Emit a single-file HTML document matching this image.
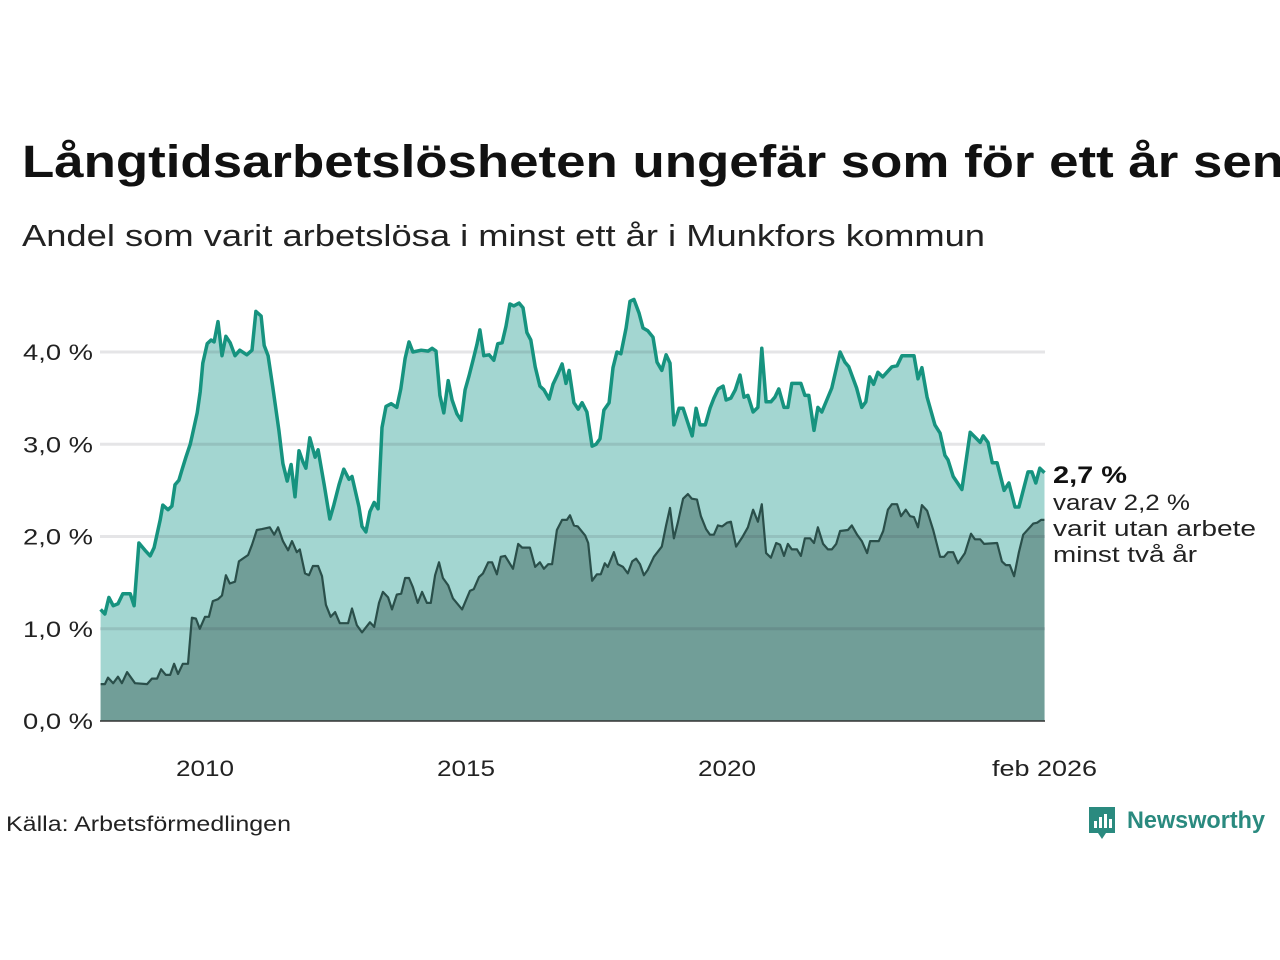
<!DOCTYPE html>
<html><head><meta charset="utf-8"><style>
body{margin:0;width:1280px;height:960px;background:#fff;overflow:hidden;font-family:"Liberation Sans","DejaVu Sans",sans-serif;}
svg{position:absolute;left:0;top:0}
</style></head><body>
<svg id="chart" width="1280" height="960">
<text x="22" y="177" font-size="45" font-weight="bold" fill="#111" textLength="1262" lengthAdjust="spacingAndGlyphs">Långtidsarbetslösheten ungefär som för ett år sen</text>
<text x="22" y="246" font-size="31" fill="#222" textLength="963" lengthAdjust="spacingAndGlyphs">Andel som varit arbetslösa i minst ett år i Munkfors kommun</text>
<g id="areas"></g><g id="grid"></g><g id="lines"></g><g id="axes"></g>
<text x="1053" y="483" font-size="24" font-weight="bold" fill="#111" textLength="74" lengthAdjust="spacingAndGlyphs">2,7 %</text>
<text x="1053" y="510" font-size="22" fill="#222" textLength="137" lengthAdjust="spacingAndGlyphs">varav 2,2 %</text>
<text x="1053" y="536" font-size="22" fill="#222" textLength="203" lengthAdjust="spacingAndGlyphs">varit utan arbete</text>
<text x="1053" y="562" font-size="22" fill="#222" textLength="144" lengthAdjust="spacingAndGlyphs">minst två år</text>
<text x="6" y="831" font-size="21" fill="#222" textLength="285" lengthAdjust="spacingAndGlyphs">Källa: Arbetsförmedlingen</text>
<g>
<path d="M1089 807 h26 v26 h-9 l-4 6 l-4 -6 h-9 z" fill="#2a8a7f"/>
<rect x="1094" y="821" width="3" height="7" fill="#fff"/><rect x="1099" y="817" width="3" height="11" fill="#fff"/><rect x="1104" y="814" width="3" height="14" fill="#fff"/><rect x="1109" y="819" width="3" height="9" fill="#fff"/>
<text x="1127" y="828" font-size="24" font-weight="bold" fill="#2a8a7f" textLength="138" lengthAdjust="spacingAndGlyphs">Newsworthy</text>
</g>
</svg>
<script>
// months since Jan 2008
const upperMonths=[0,1.0,1.9,2.9,4.0,5.1,6.8,7.7,8.8,10.2,11.4,12.3,13.7,14.3,15.5,16.4,17.1,18.0,18.7,19.6,20.6,21.0,22.2,22.9,23.5,24.5,25.4,26.1,27.0,27.9,28.8,29.8,30.9,32.0,33.6,34.8,35.7,36.9,37.6,38.5,39.6,41.0,41.9,42.9,43.8,44.7,45.6,46.5,47.2,48.1,49.3,50.0,51.4,52.7,53.6,54.8,55.9,57.1,57.8,59.4,60.1,61.0,61.9,62.9,63.8,64.7,65.6,66.8,68.1,69.0,70.0,70.9,71.8,73.7,75.3,76.2,77.1,78.0,78.9,79.9,80.8,81.9,82.9,83.8,84.7,85.6,86.5,87.2,88.1,89.3,90.4,91.3,92.3,93.2,94.1,95.0,96.2,97.1,98.0,98.9,99.9,101.0,101.9,103.1,104.0,105.2,106.1,107.0,107.7,108.8,109.8,110.7,111.8,113.0,113.9,114.8,115.7,116.9,117.8,118.7,119.6,120.8,121.7,122.6,123.8,124.7,125.8,127.0,127.9,129.0,130.0,130.9,131.8,133.0,133.9,135.0,136.0,136.9,137.8,139.0,140.1,141.0,142.0,143.1,143.8,144.9,145.9,147.0,147.9,148.8,150.0,151.1,152.0,153.0,154.1,155.0,155.9,157.1,158.0,158.9,161.0,161.9,162.8,164.0,164.9,165.8,168.1,170.0,171.1,172.0,173.8,175.0,175.9,176.8,177.7,178.7,179.8,181.9,183.1,184.2,187.0,187.9,188.8,190.0,191.8,193.0,194.1,194.8,196.0,198.0,199.9,202.2,202.9,204.0,205.0,206.1,207.7,208.8,210.2,211.1,213.2,214.1,215.0,215.9,217];
const upperValues=[1.21,1.16,1.34,1.25,1.27,1.38,1.38,1.25,1.93,1.85,1.79,1.88,2.18,2.34,2.29,2.33,2.56,2.61,2.72,2.86,3.00,3.08,3.34,3.57,3.88,4.09,4.13,4.11,4.33,3.96,4.17,4.10,3.96,4.02,3.97,4.02,4.44,4.39,4.07,3.96,3.61,3.15,2.79,2.60,2.78,2.43,2.93,2.81,2.74,3.07,2.86,2.94,2.56,2.19,2.34,2.56,2.73,2.62,2.65,2.32,2.11,2.05,2.27,2.37,2.30,3.18,3.41,3.44,3.40,3.60,3.93,4.11,4.00,4.02,4.01,4.04,4.01,3.53,3.34,3.69,3.48,3.33,3.26,3.59,3.74,3.91,4.08,4.24,3.96,3.97,3.91,4.09,4.10,4.28,4.52,4.50,4.53,4.48,4.21,4.13,3.84,3.63,3.59,3.49,3.65,3.77,3.87,3.66,3.80,3.45,3.38,3.45,3.35,2.98,3.00,3.06,3.37,3.45,3.83,4.00,3.98,4.26,4.55,4.57,4.42,4.26,4.23,4.16,3.89,3.80,3.97,3.88,3.21,3.39,3.39,3.23,3.09,3.39,3.21,3.21,3.39,3.50,3.60,3.63,3.48,3.50,3.59,3.75,3.51,3.53,3.35,3.40,4.04,3.46,3.46,3.51,3.60,3.40,3.40,3.66,3.66,3.53,3.53,3.15,3.40,3.35,3.61,4.00,3.89,3.84,3.61,3.40,3.46,3.73,3.65,3.78,3.73,3.84,3.85,3.96,3.96,3.71,3.83,3.51,3.21,3.12,2.88,2.83,2.65,2.51,3.13,3.02,3.09,3.02,2.80,2.80,2.50,2.58,2.32,2.32,2.70,2.70,2.58,2.74,2.69];
const lowerMonths=[0,1.0,1.7,2.9,4.0,4.9,6.1,7.9,10.7,11.8,13.0,13.9,15.0,16.0,16.9,17.8,18.9,20.1,21.0,21.9,22.8,24.0,24.9,25.8,27.0,27.9,28.8,29.7,30.9,31.8,32.7,33.9,34.8,35.9,37.1,38.9,39.9,40.8,41.9,43.1,44.0,45.1,45.8,47.0,47.9,48.8,50.0,50.9,51.8,52.9,53.9,55.0,56.9,57.8,58.9,60.1,61.9,62.9,64.0,64.9,66.1,67.0,68.1,69.1,70.0,70.9,71.8,72.9,73.9,75.0,75.9,76.9,77.8,78.7,79.9,81.0,83.1,84.9,85.8,87.0,87.9,89.1,90.0,91.1,92.0,93.0,94.8,96.0,96.9,98.7,99.9,101.0,101.9,102.9,103.8,104.9,106.1,107.2,107.9,108.8,109.7,111.4,112.1,113.0,114.1,115.0,115.9,116.6,118.0,118.9,120.1,121.2,122.2,123.1,124.0,124.9,125.8,127.2,129.0,130.0,130.9,131.8,132.7,133.9,135.0,135.9,137.1,138.0,139.2,140.1,141.0,141.9,142.9,144.0,144.9,146.1,147.5,148.8,150.0,151.1,152.0,153.0,154.1,155.3,156.2,157.1,158.0,158.9,160.1,161.0,161.9,163.1,164.0,164.9,166.1,167.2,168.1,169.1,170.0,171.8,172.7,173.9,175.0,176.2,176.9,178.9,179.9,181.0,181.9,183.1,184.0,185.1,186.1,187.0,187.9,188.8,190.0,191.4,193.0,193.9,194.8,196.0,197.1,198.7,200.1,201.0,202.2,203.1,206.1,207.2,208.1,209.0,210.0,211.1,212.1,214.4,215.3,216.2,217];
const lowerValues=[0.40,0.40,0.47,0.41,0.48,0.41,0.53,0.41,0.40,0.46,0.46,0.56,0.50,0.50,0.62,0.51,0.62,0.62,1.12,1.11,1.00,1.13,1.13,1.30,1.32,1.36,1.58,1.49,1.51,1.73,1.76,1.80,1.91,2.07,2.08,2.10,2.02,2.10,1.95,1.85,1.95,1.83,1.86,1.60,1.58,1.68,1.68,1.57,1.26,1.13,1.18,1.06,1.06,1.22,1.04,0.96,1.07,1.02,1.28,1.40,1.34,1.21,1.37,1.38,1.55,1.55,1.45,1.28,1.40,1.28,1.28,1.58,1.72,1.55,1.47,1.33,1.21,1.41,1.43,1.56,1.60,1.72,1.72,1.59,1.78,1.79,1.65,1.92,1.88,1.88,1.67,1.72,1.65,1.70,1.70,2.07,2.18,2.18,2.23,2.12,2.11,2.01,1.93,1.52,1.59,1.59,1.71,1.67,1.83,1.70,1.67,1.60,1.73,1.76,1.70,1.58,1.64,1.78,1.89,2.12,2.31,1.98,2.15,2.41,2.46,2.41,2.40,2.22,2.08,2.02,2.02,2.12,2.11,2.15,2.16,1.89,1.99,2.10,2.29,2.16,2.35,1.82,1.77,1.93,1.91,1.79,1.92,1.86,1.86,1.79,1.98,1.98,1.93,2.10,1.92,1.86,1.86,1.92,2.06,2.07,2.12,2.02,1.95,1.82,1.95,1.95,2.06,2.29,2.35,2.35,2.22,2.29,2.22,2.21,2.10,2.34,2.28,2.07,1.78,1.78,1.83,1.83,1.71,1.82,2.03,1.97,1.97,1.92,1.93,1.73,1.69,1.69,1.57,1.83,2.02,2.14,2.15,2.18,2.18];
const yTicks=[0,1,2,3,4];
const yTickLabels=["0,0 %","1,0 %","2,0 %","3,0 %","4,0 %"];
const xTickMonths=[24,84,144,217];
const xTickLabels=["2010","2015","2020","feb 2026"];

const NS="http://www.w3.org/2000/svg";
const X=m=>100.6+m*4.35;
const Y=v=>721-v*92.25;
function mk(tag,attrs,parent){const e=document.createElementNS(NS,tag);for(const k in attrs)e.setAttribute(k,attrs[k]);parent.appendChild(e);return e;}
function pts(ms,vs){return ms.map((m,i)=>X(m).toFixed(1)+","+Y(vs[i]).toFixed(1)).join(" ");}
const areas=document.getElementById("areas"),grid=document.getElementById("grid"),lines=document.getElementById("lines"),axes=document.getElementById("axes");
const ua=mk("polygon",{points:X(0)+","+Y(0)+" "+pts(upperMonths,upperValues)+" "+X(217)+","+Y(0),fill:"#a3d6d1"},areas);


const la=mk("polygon",{points:X(0)+","+Y(0)+" "+pts(lowerMonths,lowerValues)+" "+X(217)+","+Y(0),fill:"#719e98"},areas);


yTicks.forEach((t,i)=>{
  if(t>0){const g=mk("line",{x1:100,x2:1045,y1:Y(t),y2:Y(t),stroke:"rgba(40,40,60,0.12)","stroke-width":3},grid);
  
  }
  const tx=mk("text",{x:93,y:Y(t)+8,"text-anchor":"end","font-size":22,fill:"#222",textLength:70,lengthAdjust:"spacingAndGlyphs"},axes);
  tx.textContent=yTickLabels[i];
  
  
});
const ul=mk("polyline",{points:pts(upperMonths,upperValues),fill:"none",stroke:"#16937f","stroke-width":3.5,"stroke-linejoin":"round"},lines);


const ll=mk("polyline",{points:pts(lowerMonths,lowerValues),fill:"none",stroke:"#2a4f4a","stroke-width":2.2,"stroke-linejoin":"round"},lines);


const base=mk("line",{x1:100,x2:1045,y1:Y(0),y2:Y(0),stroke:"#333","stroke-width":1.5},axes);


xTickMonths.forEach((m,i)=>{
  const attrs={x:X(m),y:776,"text-anchor":"middle","font-size":22,fill:"#222"};
  if(xTickLabels[i].length>4){attrs.textLength=105;attrs.lengthAdjust="spacingAndGlyphs";}
  else{attrs.textLength=58;attrs.lengthAdjust="spacingAndGlyphs";}
  const tx=mk("text",attrs,axes);
  tx.textContent=xTickLabels[i];
  
  
});
</script>
</body></html>
